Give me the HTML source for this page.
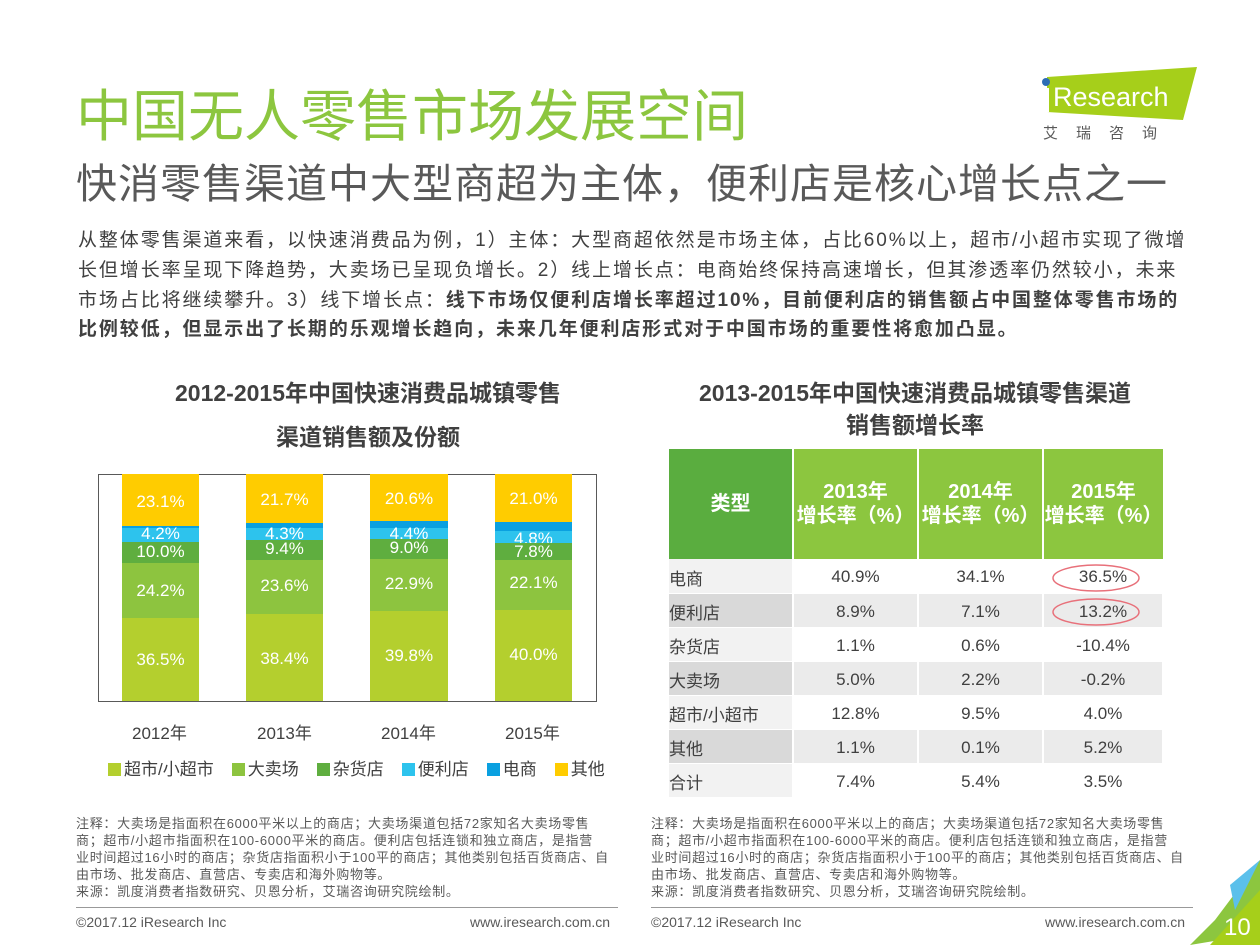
<!DOCTYPE html>
<html><head><meta charset="utf-8"><style>
*{margin:0;padding:0;box-sizing:border-box}
body{width:1260px;height:945px;background:#fff;position:relative;overflow:hidden;font-family:"Liberation Sans","Microsoft YaHei","Noto Sans CJK SC",sans-serif;color:#404040}
.abs{position:absolute;white-space:nowrap}
.t1{left:76px;top:72px;font-size:56px;color:#8cc63f;letter-spacing:0px}
.t2{left:76px;top:150px;font-size:41px;color:#595959;letter-spacing:1px}
.p{left:78px;font-size:19px;color:#404040;letter-spacing:1.9px}
.ct{font-size:23px;font-weight:bold;color:#404040;text-align:center}
.bar div{position:absolute;left:0;width:100%;color:#fff;font-size:17px;text-align:center}
.note{font-size:13px;color:#595959;line-height:17px;letter-spacing:0.7px}
table{position:absolute;left:669px;top:449px;border-collapse:collapse;font-size:17px}
td{height:34px;text-align:center;color:#404040;border-bottom:1px solid #fff;border-right:2px solid #fff;padding-top:3px}
td:first-child{text-align:left;width:124px}
th{background:#8cc63f;color:#fff;font-size:20px;height:110px;width:125px;border-right:2px solid #fff;line-height:24px;font-weight:bold}
th:first-child{background:#5aad3f;width:124px}
tr.a td{background:#fff}tr.a td:first-child{background:#f2f2f2}
tr.b td{background:#ebebeb}tr.b td:first-child{background:#d9d9d9}
.lg span.s{display:inline-block;width:13px;height:13px;margin-right:3px;vertical-align:-1px}
.lg span.l{margin-right:18px}
</style></head><body>
<div class="abs t1">中国无人零售市场发展空间</div>
<div class="abs t2">快消零售渠道中大型商超为主体，便利店是核心增长点之一</div>
<svg class="abs" style="left:1035px;top:62px" width="165" height="80">
<polygon points="12,15 162,5 148,58 12,50" fill="#a6cf1a"/>
<circle cx="11" cy="20" r="4" fill="#2d6db5"/>
<rect x="7" y="26" width="7" height="24" fill="#fff"/>
<text x="18" y="44" font-size="27" fill="#fff" font-family="Liberation Sans">Research</text>
<text x="8" y="76" font-size="15" fill="#595959" letter-spacing="18" font-family="Noto Sans CJK SC">艾瑞咨询</text>
</svg>
<div class="abs p" style="top:225px">从整体零售渠道来看，以快速消费品为例，1）主体：大型商超依然是市场主体，占比60%以上，超市/小超市实现了微增</div>
<div class="abs p" style="top:255px">长但增长率呈现下降趋势，大卖场已呈现负增长。2）线上增长点：电商始终保持高速增长，但其渗透率仍然较小，未来</div>
<div class="abs p" style="top:285px">市场占比将继续攀升。3）线下增长点：<b>线下市场仅便利店增长率超过10%，目前便利店的销售额占中国整体零售市场的</b></div>
<div class="abs p" style="top:314px"><b>比例较低，但显示出了长期的乐观增长趋向，未来几年便利店形式对于中国市场的重要性将愈加凸显。</b></div>
<div class="abs ct" style="left:98px;width:540px;top:374px">2012-2015年中国快速消费品城镇零售</div>
<div class="abs ct" style="left:98px;width:540px;top:418px">渠道销售额及份额</div>
<div class="abs ct" style="left:660px;width:510px;top:374px">2013-2015年中国快速消费品城镇零售渠道</div>
<div class="abs ct" style="left:660px;width:510px;top:406px">销售额增长率</div>
<div class="abs" style="left:98px;top:474px;width:499px;height:228px;border:1px solid #595959"></div>
<div class="abs bar" style="left:122px;top:474px;width:77px;height:227px">
<div style="top:0;height:52px;background:#ffcc00;line-height:56px">23.1%</div>
<div style="top:52px;height:2px;background:#0aa0e0"></div>
<div style="top:54px;height:14px;background:#2dc3ed;line-height:12px">4.2%</div>
<div style="top:68px;height:21px;background:#5fae3f;line-height:20px">10.0%</div>
<div style="top:89px;height:55px;background:#8dc43f;line-height:55px">24.2%</div>
<div style="top:144px;height:83px;background:#b4cf2e;line-height:83px">36.5%</div></div>
<div class="abs bar" style="left:246px;top:474px;width:77px;height:227px">
<div style="top:0;height:49px;background:#ffcc00;line-height:52px">21.7%</div>
<div style="top:49px;height:5px;background:#0aa0e0"></div>
<div style="top:54px;height:12px;background:#2dc3ed;line-height:12px">4.3%</div>
<div style="top:66px;height:20px;background:#5fae3f;line-height:18px">9.4%</div>
<div style="top:86px;height:54px;background:#8dc43f;line-height:52px">23.6%</div>
<div style="top:140px;height:87px;background:#b4cf2e;line-height:90px">38.4%</div></div>
<div class="abs bar" style="left:370px;top:474px;width:78px;height:227px">
<div style="top:0;height:47px;background:#ffcc00;line-height:50px">20.6%</div>
<div style="top:47px;height:7px;background:#0aa0e0"></div>
<div style="top:54px;height:11px;background:#2dc3ed;line-height:12px">4.4%</div>
<div style="top:65px;height:20px;background:#5fae3f;line-height:18px">9.0%</div>
<div style="top:85px;height:52px;background:#8dc43f;line-height:50px">22.9%</div>
<div style="top:137px;height:90px;background:#b4cf2e;line-height:90px">39.8%</div></div>
<div class="abs bar" style="left:495px;top:474px;width:77px;height:227px">
<div style="top:0;height:48px;background:#ffcc00;line-height:50px">21.0%</div>
<div style="top:48px;height:9px;background:#0aa0e0"></div>
<div style="top:57px;height:12px;background:#2dc3ed;line-height:16px">4.8%</div>
<div style="top:69px;height:17px;background:#5fae3f;line-height:18px">7.8%</div>
<div style="top:86px;height:50px;background:#8dc43f;line-height:46px">22.1%</div>
<div style="top:136px;height:91px;background:#b4cf2e;line-height:90px">40.0%</div></div>
<div class="abs" style="left:132px;top:719px;font-size:17px">2012年</div>
<div class="abs" style="left:257px;top:719px;font-size:17px">2013年</div>
<div class="abs" style="left:381px;top:719px;font-size:17px">2014年</div>
<div class="abs" style="left:505px;top:719px;font-size:17px">2015年</div>
<div class="abs lg" style="left:108px;top:755px;font-size:17px">
<span class="s" style="background:#b4cf2e"></span><span class="l">超市/小超市</span><span class="s" style="background:#8dc43f"></span><span class="l">大卖场</span><span class="s" style="background:#5fae3f"></span><span class="l">杂货店</span><span class="s" style="background:#2dc3ed"></span><span class="l">便利店</span><span class="s" style="background:#0aa0e0"></span><span class="l">电商</span><span class="s" style="background:#ffcc00"></span><span>其他</span></div>
<table>
<tr><th>类型</th><th>2013年<br>增长率（%）</th><th>2014年<br>增长率（%）</th><th style="border-right:0;width:120px">2015年<br>增长率（%）</th></tr>
<tr class="a"><td>电商</td><td>40.9%</td><td>34.1%</td><td>36.5%</td></tr>
<tr class="b"><td>便利店</td><td>8.9%</td><td>7.1%</td><td>13.2%</td></tr>
<tr class="a"><td>杂货店</td><td>1.1%</td><td>0.6%</td><td>-10.4%</td></tr>
<tr class="b"><td>大卖场</td><td>5.0%</td><td>2.2%</td><td>-0.2%</td></tr>
<tr class="a"><td>超市/小超市</td><td>12.8%</td><td>9.5%</td><td>4.0%</td></tr>
<tr class="b"><td>其他</td><td>1.1%</td><td>0.1%</td><td>5.2%</td></tr>
<tr class="a"><td>合计</td><td>7.4%</td><td>5.4%</td><td>3.5%</td></tr>
</table>
<svg class="abs" style="left:1050px;top:562px" width="100" height="70">
<ellipse cx="46" cy="16" rx="43" ry="13" fill="none" stroke="#e8707a" stroke-width="1.5"/>
<ellipse cx="46" cy="50" rx="43" ry="13" fill="none" stroke="#e8707a" stroke-width="1.5"/>
</svg>
<div class="abs note" style="left:76px;top:815px">注释：大卖场是指面积在6000平米以上的商店；大卖场渠道包括72家知名大卖场零售<br>商；超市/小超市指面积在100-6000平米的商店。便利店包括连锁和独立商店，是指营<br>业时间超过16小时的商店；杂货店指面积小于100平的商店；其他类别包括百货商店、自<br>由市场、批发商店、直营店、专卖店和海外购物等。<br>来源：凯度消费者指数研究、贝恩分析，艾瑞咨询研究院绘制。</div>
<div class="abs note" style="left:651px;top:815px">注释：大卖场是指面积在6000平米以上的商店；大卖场渠道包括72家知名大卖场零售<br>商；超市/小超市指面积在100-6000平米的商店。便利店包括连锁和独立商店，是指营<br>业时间超过16小时的商店；杂货店指面积小于100平的商店；其他类别包括百货商店、自<br>由市场、批发商店、直营店、专卖店和海外购物等。<br>来源：凯度消费者指数研究、贝恩分析，艾瑞咨询研究院绘制。</div>
<div class="abs" style="left:76px;top:907px;width:542px;border-top:1px solid #999"></div>
<div class="abs" style="left:651px;top:907px;width:542px;border-top:1px solid #999"></div>
<div class="abs" style="left:76px;top:914px;font-size:14px;color:#595959">©2017.12 iResearch Inc</div>
<div class="abs" style="left:470px;top:914px;font-size:14px;color:#595959">www.iresearch.com.cn</div>
<div class="abs" style="left:651px;top:914px;font-size:14px;color:#595959">©2017.12 iResearch Inc</div>
<div class="abs" style="left:1045px;top:914px;font-size:14px;color:#595959">www.iresearch.com.cn</div>
<svg class="abs" style="left:1190px;top:860px" width="70" height="85">
<polygon points="70,0 70,40 30,80 0,85 25,60" fill="#8cc63f"/>
<polygon points="70,0 45,50 40,25" fill="#5bc0eb"/>
<polygon points="70,30 70,85 20,85" fill="#a6cf1a"/>
<text x="34" y="75" font-size="24" fill="#fff" font-family="Liberation Sans">10</text>
</svg>
</body></html>
